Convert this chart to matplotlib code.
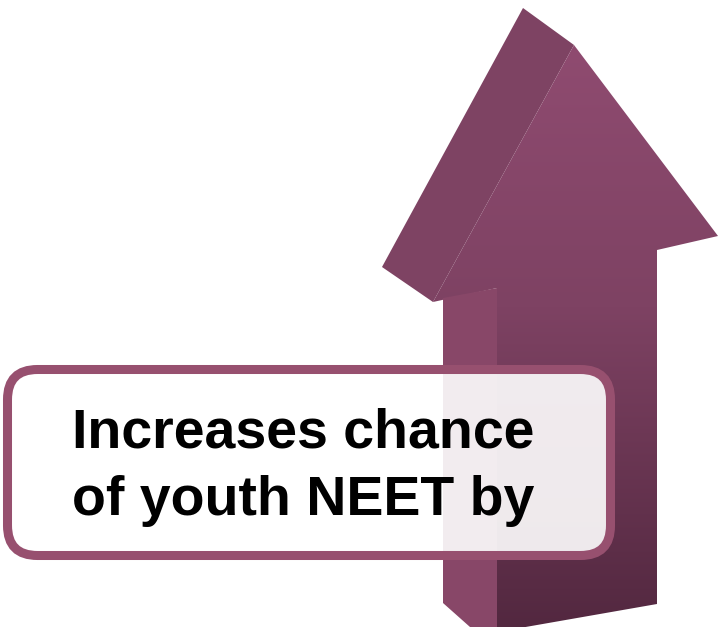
import numpy as np
import matplotlib
matplotlib.use("Agg")
import matplotlib.pyplot as plt
from matplotlib.patches import Polygon, FancyBboxPatch
from matplotlib.colors import LinearSegmentedColormap

# text lines shown in the callout box
text_lines = ["Increases chance", "of youth NEET by"]

# arrow faces (pixel coords, y downwards)
side_head = [(523, 8), (574, 45), (433, 302), (382, 267)]
front_face = [(574, 45), (718, 236), (657, 250), (657, 604), (497, 632),
              (497, 288), (433, 302)]
side_shaft = [(443, 298), (497, 288), (497, 640), (470, 627), (443, 603)]

W, H = 721, 627
fig = plt.figure(figsize=(W / 100, H / 100), dpi=100)
ax = fig.add_axes([0, 0, 1, 1])
ax.set_xlim(0, W)
ax.set_ylim(H, 0)
ax.axis("off")

# side of the arrow head
ax.add_patch(Polygon(side_head, closed=True, facecolor="#7e4363", edgecolor="none", zorder=1))

# front face with vertical gradient
cmap = LinearSegmentedColormap.from_list(
    "arrow", [(0.0, "#8f4b70"), (0.45, "#7e4263"), (1.0, "#532840")])
grad = np.linspace(0, 1, 300).reshape(-1, 1)
front_patch = Polygon(front_face, closed=True, facecolor="none", edgecolor="none")
ax.add_patch(front_patch)
im = ax.imshow(grad, cmap=cmap, aspect="auto", extent=(430, 720, 627, 45),
               origin="upper", zorder=2)
im.set_clip_path(front_patch)

# left side of the shaft
ax.add_patch(Polygon(side_shaft, closed=True, facecolor="#884768", edgecolor="none", zorder=3))

# callout box
box = FancyBboxPatch((7.5, 369.5), 603, 186,
                     boxstyle="round,pad=0,rounding_size=30",
                     facecolor=(1, 1, 1, 0.9), edgecolor="#97506f",
                     linewidth=6.5, zorder=4)
ax.add_patch(box)

baselines = [448, 515]
for line, yb in zip(text_lines, baselines):
    ax.text(72, yb, line, fontsize=40, fontweight="bold",
            family=["Liberation Sans", "DejaVu Sans"],
            ha="left", va="baseline", color="black", zorder=5)

fig.savefig("out.png", dpi=100)
